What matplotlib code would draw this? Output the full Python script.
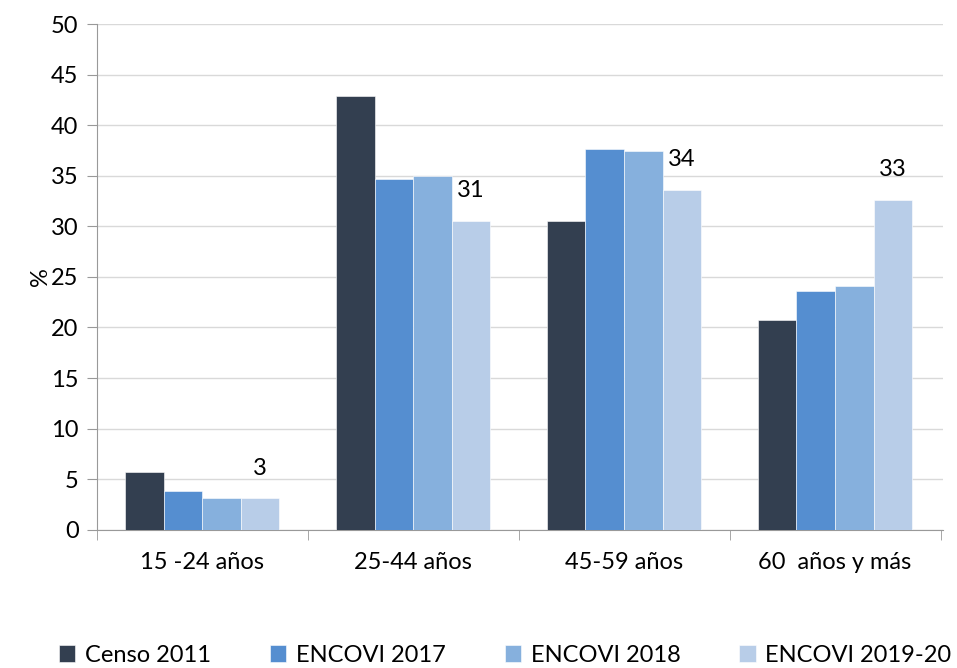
import matplotlib
matplotlib.use('Agg')
import matplotlib.pyplot as plt
import numpy as np

categories = ['15 -24 años', '25-44 años', '45-59 años', '60  años y más']
series = ['Censo 2011', 'ENCOVI 2017', 'ENCOVI 2018', 'ENCOVI 2019-20']
values = {
    'Censo 2011': [5.7, 42.9, 30.5, 20.75],
    'ENCOVI 2017': [3.85, 34.7, 37.6, 23.6],
    'ENCOVI 2018': [3.1, 35.0, 37.4, 24.1],
    'ENCOVI 2019-20': [3.1, 30.5, 33.6, 32.6],
}
labels_last = ['3', '31', '34', '33']
colors = ['#333f50', '#558ed0', '#86b0dd', '#b8cde8']

plt.rcParams['font.family'] = ['Lato', 'DejaVu Sans']
plt.rcParams['font.size'] = 17

fig = plt.figure(figsize=(9.57, 6.68), dpi=100)
ax = fig.add_axes([0.101, 0.207, 0.884, 0.757])

x = np.arange(len(categories))
w = 0.183
for i, s in enumerate(series):
    pos = x + (i - 1.5) * w
    ax.bar(pos, values[s], width=w, color=colors[i], label=s, zorder=3,
           edgecolor='white', linewidth=0.4)
    if i == 3:
        for p, v, t in zip(pos, values[s], labels_last):
            ax.text(p, v + 3.0, t, ha='center', va='center', fontsize=17, zorder=4)

ax.set_xlim(-0.5, 3.51)
ax.set_ylim(0, 50)
ax.set_yticks(range(0, 51, 5))
ax.grid(axis='y', color='#d9d9d9', linewidth=1, zorder=0)
ax.set_axisbelow(True)
for sp in ['top', 'right']:
    ax.spines[sp].set_visible(False)
ax.spines['left'].set_color('#999999')
ax.spines['bottom'].set_color('#999999')
ax.set_xticks(x)
ax.set_xticklabels(categories)
ax.set_xticks(np.arange(-0.5, len(categories)), minor=True)
ax.tick_params(axis='x', which='major', length=0, pad=16)
ax.tick_params(axis='x', which='minor', length=7, color='#999999')
ax.tick_params(axis='y', length=7, color='#999999', pad=6)
ax.set_ylabel('%', labelpad=0)

ax.legend(loc='center', bbox_to_anchor=(0.483, -0.248), ncol=4, frameon=False,
          handlelength=0.7, handleheight=0.7, handletextpad=0.4, columnspacing=2.5,
          fontsize=17)

fig.savefig('out.png', dpi=100)
